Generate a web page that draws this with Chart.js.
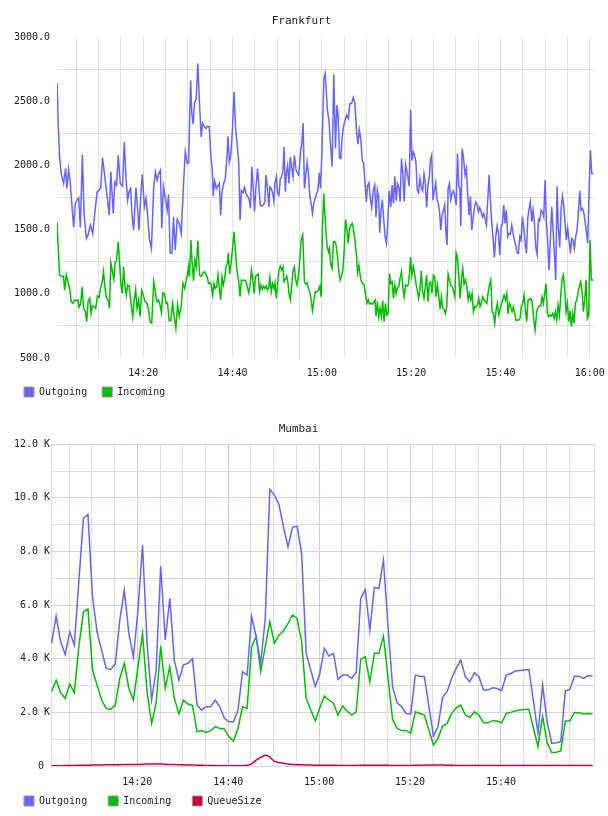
<!DOCTYPE html>
<html lang="en">
<head>
  <meta charset="UTF-8">
  <title>Frankfurt / Mumbai</title>
  <script src="https://cdn.jsdelivr.net/npm/chart.js"></script>
  <style>
    body { margin: 0; background: #fff; width: 608px; height: 816px; overflow: hidden; }
    .box { position: absolute; left: 0; width: 608px; }
    #frBox { top: 0; height: 407px; }
    #mbBox { top: 407px; height: 409px; }
  </style>
</head>
<body>
  <div class="box" id="frBox"><canvas id="fr" width="608" height="407"></canvas></div>
  <div class="box" id="mbBox"><canvas id="mb" width="608" height="409"></canvas></div>

  <script>
    // Frankfurt: minutes after 14:00 and values
    const frOutTime = [
      0.67,1.02,1.25,1.62,2.15,2.6,2.9,3.27,3.65,4.1,4.4,4.77,5.15,5.53,5.9,6.35,6.73,7.25,7.63,8.15,8.68,9.13,9.66,10.11,10.48,10.86,11.38,11.91,12.36,12.73,13.26,13.63,14.01,14.39,14.84,15.36,15.74,16.11,16.49,16.79,17.16,17.54,17.84,18.36,18.74,19.04,19.42,19.79,20.24,20.62,20.99,21.37,21.82,22.34,22.72,23.09,23.47,23.84,24.15,24.52,24.9,25.35,25.65,26.02,26.4,26.77,27.15,27.6,28.05,28.5,28.95,29.4,29.85,30.15,30.6,
      30.87,31.17,31.47,31.85,32.22,32.6,32.97,33.27,33.65,34.02,34.4,34.77,35.15,35.45,35.68,35.98,36.35,36.65,37.03,37.33,37.63,38.0,38.38,38.75,38.98,39.28,39.58,39.96,40.33,40.71,41.08,41.38,41.68,41.98,42.36,42.66,43.03,43.33,43.71,44.01,44.31,44.61,44.91,45.21,45.59,45.89,46.19,46.49,46.86,47.24,47.46,47.76,48.14,48.36,48.66,48.96,49.27,49.49,49.79,50.09,50.39,50.69,50.99,51.29,51.52,51.82,52.04,52.34,52.64,52.94,53.24,53.54,53.84,54.22,54.52,54.82,55.2,55.5,55.8,56.1,56.4,56.7,57.0,57.3,57.6,57.9,58.2,58.5,58.8,59.1,59.4,59.7,60.0,60.45,60.75,
      61.25,61.62,61.92,62.3,62.67,63.05,63.35,63.65,63.95,64.25,64.55,64.85,65.23,65.53,65.9,66.28,66.65,67.03,67.4,67.78,68.08,68.38,68.75,69.05,69.35,69.66,69.96,70.26,70.56,70.86,71.16,71.53,71.83,72.13,72.43,72.73,72.96,73.26,73.56,73.86,74.16,74.46,74.76,75.06,75.44,75.74,76.04,76.34,76.64,76.94,77.24,77.54,77.84,78.14,78.44,78.74,79.04,79.34,79.57,79.87,80.17,80.47,80.77,81.07,81.37,81.67,81.97,82.27,82.57,82.87,83.17,83.47,83.77,84.07,84.3,84.6,84.9,85.2,85.5,85.8,86.1,86.4,86.62,86.92,87.22,87.52,87.82,88.05,88.28,88.58,88.88,89.18,89.48,89.78,90.08,90.38,90.68,90.9,
      91.12,91.41,91.71,92.09,92.39,92.68,92.98,93.28,93.58,93.88,94.18,94.47,94.77,95.07,95.37,95.67,95.97,96.27,96.56,96.86,97.16,97.46,97.76,98.06,98.36,98.65,98.95,99.25,99.55,99.85,100.15,100.45,100.74,101.04,101.34,101.64,101.94,102.24,102.53,102.83,103.13,103.43,103.73,104.03,104.33,104.62,104.92,105.22,105.52,105.82,106.12,106.42,106.71,107.01,107.31,107.61,107.91,108.21,108.51,108.8,109.1,109.4,109.7,110.0,110.3,110.59,110.89,111.19,111.49,111.79,112.09,112.39,112.68,112.98,113.28,113.58,113.88,114.18,114.48,114.77,115.07,115.37,115.67,115.97,116.27,116.57,116.86,117.16,117.46,117.76,118.06,118.36,118.65,118.95,119.25,119.55,119.85,120.15,120.45,120.82
    ];
    const frOutVal = [
      2644,2250,2067,1938,1860,1977,1821,1969,1860,1652,1517,1704,1730,1748,1517,2088,1626,1432,1458,1536,1471,1626,1795,1808,1829,2062,1912,1756,1613,1951,1626,1873,1847,2080,1860,1839,2184,1912,1730,1795,1821,1587,1497,1829,1652,1497,1756,1932,1678,1743,1600,1432,1354,1834,1951,1886,1938,1964,1510,1834,1756,1652,1774,1320,1315,1600,1341,1580,1549,1471,1808,2106,2016,2021,2664,
      2405,2322,2483,2522,2794,2483,2223,2332,2306,2288,2306,2301,2067,1964,1761,1881,1821,1839,1860,1613,1795,1860,1899,2080,2228,2028,2067,2275,2574,2275,2145,2021,1574,1803,1787,1829,1782,1761,1735,1665,1990,1834,1639,1821,1977,1847,1691,1683,1691,1717,1925,1847,1678,1834,1821,1787,1717,1860,1912,1782,1769,1899,1912,1964,2145,1795,1938,2003,1860,2067,1984,1912,2080,1964,1943,1925,2093,2171,2332,1821,1917,2028,1938,1761,1704,1626,1709,1743,1782,1803,1943,1821,2093,2677,2716,
      2431,2340,2171,1990,2711,2132,2470,2392,2062,2054,2223,2306,2353,2392,2366,2483,2483,2529,2488,2262,2166,2280,2197,2041,2021,1865,1717,1847,1865,1743,1673,1808,1847,1600,1808,1751,1476,1652,1735,1574,1450,1393,1549,1803,1678,1847,1704,1917,1725,1860,1834,1717,2054,1932,1717,2010,1958,1891,1839,2436,2041,2106,2080,2028,1808,1787,1899,1829,1803,1932,1860,1673,1847,1912,2041,2080,1730,1803,1865,1735,1704,1626,1497,1613,1647,1691,1466,1380,1821,1860,1735,1782,1803,1761,1691,2093,1834,1821,
      1528,2132,2067,1925,1977,1769,1613,1761,1497,1587,1678,1717,1691,1639,1673,1639,1600,1626,1580,1536,1730,1925,1730,1549,1432,1284,1445,1528,1471,1302,1510,1549,1691,1549,1652,1445,1471,1466,1536,1471,1419,1380,1320,1315,1445,1419,1600,1517,1406,1315,1587,1665,1717,1562,1652,1549,1367,1310,1580,1569,1652,1639,1600,1886,1562,1398,1185,1432,1678,1497,1315,1107,1839,1510,1362,1652,1761,1691,1549,1419,1510,1419,1315,1432,1419,1354,1445,1497,1631,1803,1652,1665,1639,1569,1484,1393,1782,2119,1938,1938
    ];
    const frInTime = [
      0.67,1.25,1.77,2.15,2.37,2.75,3.12,3.5,3.87,4.25,4.62,5.0,5.38,5.6,5.98,6.28,6.65,7.03,7.33,7.63,8.0,8.3,8.6,8.98,9.35,9.73,10.11,10.41,10.78,11.08,11.38,11.76,12.13,12.43,12.73,13.03,13.41,13.71,14.01,14.39,14.69,14.99,15.29,15.59,15.89,16.19,16.49,16.86,17.24,17.61,17.99,18.29,18.59,18.96,19.27,19.64,20.02,20.39,20.77,21.14,21.52,21.89,22.34,22.64,23.02,23.39,23.77,24.07,24.37,24.75,25.12,25.42,25.8,26.17,26.55,26.92,27.3,27.67,28.05,28.5,28.88,29.25,29.63,30.0,
      30.12,30.35,30.65,30.95,31.25,31.55,31.85,32.22,32.6,32.97,33.35,33.72,34.02,34.32,34.62,35.0,35.23,35.53,35.83,36.13,36.43,36.73,37.03,37.33,37.63,37.93,38.23,38.53,38.83,39.05,39.35,39.66,39.96,40.33,40.63,41.01,41.38,41.68,41.98,42.36,42.73,43.03,43.33,43.63,43.93,44.23,44.54,44.84,45.14,45.44,45.74,46.04,46.34,46.64,46.94,47.24,47.54,47.84,48.14,48.36,48.66,48.96,49.27,49.49,49.79,50.09,50.39,50.69,50.99,51.29,51.52,51.82,52.12,52.42,52.64,52.94,53.24,53.54,53.84,54.14,54.45,54.75,55.05,55.35,55.72,56.1,56.4,56.7,57.0,57.3,57.6,57.9,58.2,58.5,58.88,59.25,59.55,59.85,60.15,60.45,
      60.57,60.87,61.17,61.47,61.7,62.0,62.3,62.6,62.9,63.2,63.5,63.8,64.1,64.4,64.7,65.0,65.3,65.6,65.9,66.2,66.5,66.8,67.1,67.4,67.7,68.0,68.3,68.6,68.9,69.2,69.5,69.8,70.1,70.4,70.71,71.01,71.31,71.61,71.91,72.13,72.43,72.73,73.03,73.33,73.63,73.93,74.23,74.54,74.84,75.14,75.44,75.74,76.04,76.34,76.64,76.94,77.24,77.54,77.84,78.14,78.44,78.74,79.04,79.34,79.64,79.87,80.17,80.47,80.77,81.07,81.37,81.67,81.97,82.27,82.57,82.87,83.17,83.47,83.77,84.07,84.37,84.67,84.97,85.27,85.57,85.87,86.17,86.47,86.77,87.07,87.37,87.67,87.97,88.28,88.58,88.88,89.18,89.48,89.78,90.08,
      90.37,90.67,90.97,91.27,91.56,91.86,92.16,92.46,92.76,93.06,93.36,93.65,93.95,94.25,94.55,94.85,95.15,95.44,95.74,96.04,96.34,96.64,96.94,97.24,97.53,97.83,98.13,98.43,98.73,99.03,99.33,99.62,99.92,100.22,100.52,100.82,101.12,101.42,101.71,102.01,102.31,102.61,102.91,103.21,103.5,103.8,104.1,104.4,104.7,105.0,105.3,105.59,105.89,106.19,106.49,106.79,107.09,107.39,107.76,108.13,108.43,108.73,109.03,109.33,109.62,109.92,110.22,110.52,110.82,111.12,111.42,111.71,112.01,112.31,112.61,112.91,113.21,113.51,113.8,114.1,114.4,114.7,115.0,115.3,115.59,115.89,116.19,116.49,116.79,117.09,117.39,117.68,117.98,118.28,118.58,118.88,119.18,119.48,119.78,120.07,120.37,120.82
    ];
    const frInVal = [
      1562,1146,1133,1138,1029,1146,1094,1042,939,926,952,947,952,895,926,1055,887,861,783,939,965,848,906,900,887,983,972,1042,1086,1172,1060,965,952,887,1242,1185,1112,1250,1258,1406,1237,1081,1003,1211,1060,990,1068,1060,926,822,957,1034,887,952,822,1029,990,939,931,887,783,770,1094,1029,939,952,913,853,1008,1003,926,931,791,791,926,827,731,913,827,906,1081,1042,1107,1172,
      1211,1133,1419,1237,1102,1263,1211,1414,1146,1138,1159,1172,1154,1133,1081,1086,1068,990,1081,1042,1055,1146,1042,952,1133,1068,1120,1211,1237,1320,1154,1242,1341,1484,1341,1172,1094,977,1107,1102,1107,1094,1050,1008,1068,1185,1107,1003,1138,1146,1154,1016,1068,1034,1060,1042,1060,1029,1060,1128,1016,1081,1042,1086,965,1076,1185,1216,1185,1211,1094,1112,1138,1081,1003,952,1055,1185,1211,1107,1068,1146,1258,1419,1458,1094,1076,1086,1042,1016,952,869,939,1016,1016,1029,1060,977,1549,1782,
      1678,1510,1367,1328,1354,1224,1198,1406,1406,1380,1289,1172,1107,1138,1185,1341,1580,1510,1393,1510,1536,1549,1497,1419,1320,1164,1224,1138,1094,1081,1068,990,926,952,921,926,921,931,952,827,939,822,887,822,947,783,926,835,848,1159,1081,1094,965,1068,1003,1050,1055,1128,1172,1050,977,1068,1060,1068,1159,1284,1146,1211,1154,1081,1029,965,1029,1180,1016,965,1055,1146,939,1081,1094,1003,1146,1133,977,1068,990,879,977,887,879,848,895,1154,1107,1068,1055,1024,977,1320,
      1289,1133,965,1120,1198,1076,1107,1068,952,1003,952,1003,861,900,895,913,965,900,926,977,952,939,926,1008,1068,1107,861,848,770,874,926,835,874,921,952,990,952,1003,843,926,900,861,900,848,791,796,796,809,900,926,990,874,783,952,952,965,939,822,718,861,895,906,906,977,926,1003,1076,848,822,835,827,848,809,861,796,913,835,977,1112,1146,1042,861,926,783,869,744,848,770,926,952,1016,1055,1094,1024,861,952,1107,809,835,1419,1107,1107
    ];

    // Mumbai: one sample a minute from 14:01
    const mbStart = 1.15;
    const mbOut = [
      4570,5590,4630,4160,5000,4510,6900,9230,9380,6310,
      5000,4320,3640,3600,3800,5440,6560,4940,4070,5800,
      8240,4600,2460,3580,7450,4700,6250,3950,3200,3760,
      3830,4000,2270,2090,2210,2210,2460,2210,1780,1650,
      1650,2090,3520,3390,5570,4820,3830,5500,10320,10100,
      9760,8920,8170,8900,8940,7930,4200,3580,2960,3450,
      4390,4100,4200,3230,3390,3390,3270,3490,6250,6580,
      5070,6660,6620,7680,5200,2960,2360,2210,1960,1940,
      3390,3350,3330,2210,1120,1470,2560,2770,3270,3640,
      3950,3330,3140,3480,3330,2830,2830,2920,2890,2810,
      3390,3450,3540,3560,3580,3600,2400,1220,3020,1650,
      840,870,910,2800,2860,3350,3350,3270,3370,3350
    ];
    const mbIn = [
      2800,3200,2730,2520,3060,2730,4450,5750,5850,3580,
      3020,2460,2150,2110,2270,3270,3830,2890,2460,3700,
      4940,2770,1590,2340,4470,2890,3700,2520,1940,2460,
      2310,2250,1280,1320,1250,1320,1470,1400,1380,1090,
      930,1400,2210,2150,4450,4820,3520,4450,5380,4570,
      4880,5040,5320,5630,5500,4630,2520,2100,1680,2170,
      2610,2460,2340,1900,2240,2050,1900,2020,3980,4070,
      3140,4200,4200,4840,3300,1740,1400,1320,1320,1220,
      2020,1960,1900,1340,780,1030,1490,1590,1960,2170,
      2270,1900,1810,2020,1900,1610,1610,1690,1680,1610,
      1960,2000,2050,2090,2110,2110,1400,720,1860,870,
      500,510,560,1680,1680,1990,1990,1940,1960,1930
    ];
    const mbQueue = [
      10,10,10,15,20,20,25,30,30,35,
      40,40,45,50,50,50,55,60,60,60,
      65,70,70,70,70,65,60,55,50,45,
      40,35,30,25,20,15,10,10,10,5,
      5,10,10,15,80,220,320,410,340,170,
      130,100,70,60,50,45,40,35,30,30,
      30,25,25,20,20,20,20,20,25,25,
      30,30,30,30,25,20,20,20,20,20,
      25,30,35,40,40,40,35,30,25,20,
      20,20,20,20,20,15,15,15,15,15,
      20,20,20,20,20,20,20,15,15,15,
      15,15,15,15,15,15,15,15,15,15
    ];

    const OUT_COLOR = '#6464ff';
    const IN_COLOR = '#00c000';
    const QUEUE_COLOR = '#cc0033';

    Chart.defaults.font.family = "'DejaVu Sans Mono', monospace";
    Chart.defaults.font.size = 10;
    Chart.defaults.color = '#222';
    Chart.defaults.animation = false;

    function hhmm(v) {
      const h = 14 + Math.floor(v / 60);
      const m = Math.round(v % 60);
      return h + ':' + String(m).padStart(2, '0');
    }

    function points(times, vals) {
      return vals.map((v, i) => ({ x: times[i], y: v }));
    }

    function legendLabels(chart) {
      return chart.data.datasets.map((ds, i) => ({
        text: ds.label,
        fillStyle: ds.borderColor,
        strokeStyle: '#999',
        lineWidth: 1,
        fontColor: '#222',
        datasetIndex: i,
        hidden: false
      }));
    }

    function steps(from, to, step) {
      const out = [];
      for (let v = from; v <= to; v += step) out.push(v);
      return out;
    }

    // ---------- Frankfurt ----------
    // x labels are mirrored with a negative padding so they sit under the
    // plot without being clipped to the (short) axis box
    new Chart(document.getElementById('fr'), {
      type: 'line',
      data: {
        datasets: [
          { label: 'Outgoing', data: points(frOutTime, frOutVal), borderColor: OUT_COLOR, backgroundColor: OUT_COLOR },
          { label: 'Incoming', data: points(frInTime, frInVal), borderColor: IN_COLOR, backgroundColor: IN_COLOR }
        ]
      },
      options: {
        responsive: false,
        elements: { point: { radius: 0 }, line: { borderWidth: 1.5, tension: 0 } },
        layout: { padding: { left: 9, right: 14, top: 0, bottom: 0 } },
        plugins: {
          title: { display: true, text: 'Frankfurt', color: '#222', font: { size: 11, weight: 'normal' }, padding: { top: 15, bottom: 9 } },
          legend: { position: 'bottom', align: 'start', labels: { boxWidth: 10, boxHeight: 10, padding: 15, generateLabels: legendLabels } },
          tooltip: { enabled: false }
        },
        scales: {
          x: {
            type: 'linear', min: 0.67, max: 120.96,
            afterBuildTicks: s => { s.ticks = steps(5, 120, 5).map(v => ({ value: v })); },
            afterFit: s => { s.height = 14; },
            ticks: { mirror: true, padding: -21, autoSkip: false, maxRotation: 0, callback: v => v % 20 === 0 ? hhmm(v) : '' },
            grid: { color: '#e4e4e4', drawTicks: false },
            border: { display: false }
          },
          y: {
            min: 500, max: 3000,
            afterBuildTicks: s => { s.ticks = steps(500, 3000, 250).map(v => ({ value: v })); },
            afterFit: s => { s.width = 48; },
            ticks: { padding: 7, autoSkip: false, callback: v => v % 500 === 0 ? v.toFixed(1) : '' },
            grid: { drawTicks: false, color: c => c.tick && c.tick.value % 500 === 0 ? 'rgba(0,0,0,0)' : '#e4e4e4' },
            border: { display: false }
          }
        }
      }
    });

    // ---------- Mumbai ----------
    const mbTime = mbOut.map((_, i) => mbStart + i);
    const MB_MIN = 1.02, MB_MAX = 120.46;

    new Chart(document.getElementById('mb'), {
      type: 'line',
      data: {
        datasets: [
          { label: 'Outgoing', data: points(mbTime, mbOut), borderColor: OUT_COLOR, backgroundColor: OUT_COLOR },
          { label: 'Incoming', data: points(mbTime, mbIn), borderColor: IN_COLOR, backgroundColor: IN_COLOR },
          { label: 'QueueSize', data: points(mbTime, mbQueue), borderColor: QUEUE_COLOR, backgroundColor: QUEUE_COLOR }
        ]
      },
      options: {
        responsive: false,
        elements: { point: { radius: 0 }, line: { borderWidth: 1.5, tension: 0 } },
        layout: { padding: { left: 3, right: 14, top: 0, bottom: 0 } },
        plugins: {
          title: { display: true, text: 'Mumbai', color: '#222', font: { size: 11, weight: 'normal' }, padding: { top: 16, bottom: 8 } },
          legend: { position: 'bottom', align: 'start', labels: { boxWidth: 10, boxHeight: 10, padding: 21, generateLabels: legendLabels } },
          tooltip: { enabled: false }
        },
        scales: {
          x: {
            type: 'linear', min: MB_MIN, max: MB_MAX,
            afterBuildTicks: s => { s.ticks = [MB_MIN].concat(steps(5, 115, 5), [MB_MAX]).map(v => ({ value: v })); },
            afterFit: s => { s.height = 9; },
            ticks: { mirror: true, padding: -22, autoSkip: false, maxRotation: 0, callback: v => v % 20 === 0 ? hhmm(v) : '' },
            grid: {
              drawTicks: false,
              color: c => {
                const v = c.tick ? c.tick.value : 0;
                if (v === MB_MIN || v === MB_MAX) return '#ecd8ec';
                return v % 20 === 0 ? '#dcc4dc' : '#e0e0e0';
              }
            },
            border: { display: false }
          },
          y: {
            min: 0, max: 12000,
            afterBuildTicks: s => { s.ticks = steps(0, 12000, 1000).map(v => ({ value: v })); },
            afterFit: s => { s.width = 48; },
            ticks: { padding: 1, autoSkip: false, callback: v => v === 0 ? '0 ' : (v % 2000 === 0 ? (v / 1000).toFixed(1) + ' K' : '') },
            grid: { drawTicks: false, color: c => c.tick && c.tick.value % 2000 === 0 ? '#e6cde6' : '#dedede' },
            border: { display: false }
          }
        }
      }
    });
  </script>
</body>
</html>
